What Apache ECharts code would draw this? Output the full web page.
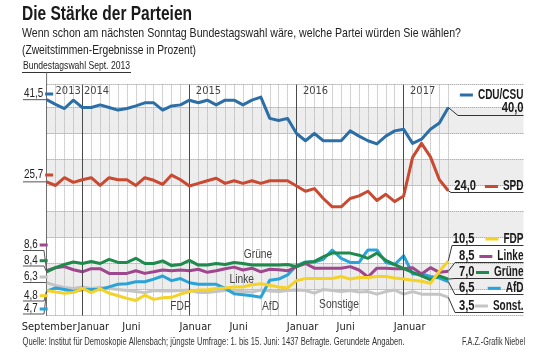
<!DOCTYPE html>
<html><head><meta charset="utf-8">
<script src="https://cdn.jsdelivr.net/npm/echarts@6/dist/echarts.min.js"></script>
<style>html,body{margin:0;padding:0;background:#fff}#c{width:555px;height:354px}</style>
</head><body><div id="c"></div><script>
// ---------- DATA ----------
const months = ['Sep 13','Okt 13','Nov 13','Dez 13',
 'Jan 14','Feb 14','Mär 14','Apr 14','Mai 14','Jun 14','Jul 14','Aug 14','Sep 14','Okt 14','Nov 14','Dez 14',
 'Jan 15','Feb 15','Mär 15','Apr 15','Mai 15','Jun 15','Jul 15','Aug 15','Sep 15','Okt 15','Nov 15','Dez 15',
 'Jan 16','Feb 16','Mär 16','Apr 16','Mai 16','Jun 16','Jul 16','Aug 16','Sep 16','Okt 16','Nov 16','Dez 16',
 'Jan 17','Feb 17','Mär 17','Apr 17','Mai 17','Jun 17'];
const tickIdx  = [0, 4, 9, 16, 21, 28, 33, 40];
const tickText = ['September','Januar','Juni','Januar','Juni','Januar','Juni','Januar'];
const yearIdx  = [4, 16, 28, 40];
const yearText = ['2014','2015','2016','2017'];
const electionYear = '2013';

const cdu = [41.5,40.6,39.8,41.4,40.0,40.0,40.5,40.0,39.5,39.8,40.3,40.9,40.9,39.5,40.3,40.5,
 41.4,40.9,41.4,40.5,41.4,41.4,40.5,41.4,42.0,37.9,37.5,37.9,
 35.0,33.6,35.0,33.6,33.6,33.6,35.5,34.5,33.6,33.0,34.5,35.5,
 35.8,33.1,33.9,35.8,37.0,40.0];
const spd = [25.7,25.0,26.5,25.6,26.1,26.5,25.0,26.5,26.1,26.1,25.0,26.5,26.0,25.2,27.0,26.1,
 24.9,25.4,25.9,26.4,25.4,25.9,25.4,25.9,25.4,25.9,25.9,25.9,
 24.9,23.9,24.4,22.5,20.9,20.9,22.5,23.0,23.9,22.1,23.3,21.9,
 23.0,30.4,33.1,30.5,26.1,24.0];
const fdp = [4.8,4.5,4.3,4.4,5.2,4.4,5.1,4.3,3.8,3.3,2.9,3.9,3.1,3.4,3.5,4.1,
 4.6,4.9,4.9,5.2,5.3,5.5,5.5,5.9,6.1,5.8,5.5,5.3,
 6.7,7.1,7.1,7.1,7.1,7.5,7.0,7.3,7.3,7.5,7.5,7.2,
 7.0,6.8,6.6,6.2,8.5,10.5];
const linke = [8.6,9.2,9.4,8.8,8.4,9.0,9.0,8.1,8.1,8.1,8.6,8.1,8.4,8.75,8.6,8.75,
 8.6,8.9,8.3,8.6,9.0,9.3,8.75,9.1,8.4,8.9,8.8,8.6,
 9.4,10.0,9.1,9.1,9.1,9.1,9.4,8.75,7.4,9.1,9.1,9.0,
 9.0,9.2,8.0,9.2,8.3,8.5];
const gruene = [8.4,9.2,9.8,10.3,10.0,10.4,10.0,10.8,10.2,10.2,11.0,10.0,10.0,10.5,9.6,9.8,
 10.6,9.7,9.7,10.0,9.8,10.2,10.0,9.7,9.7,9.7,9.7,9.8,
 9.4,10.2,10.4,11.3,12.0,12.0,12.0,11.6,11.0,12.0,10.6,9.8,
 9.0,8.3,7.6,6.9,7.6,7.0];
const afd = [4.7,5.3,5.0,4.6,5.0,5.0,5.0,5.5,6.0,6.1,6.5,6.5,7.0,7.6,6.7,7.1,
 6.3,6.0,6.0,6.0,5.2,4.2,4.0,3.8,3.5,6.8,7.0,7.8,
 9.6,10.3,10.3,10.8,12.6,11.0,10.2,10.2,12.6,12.6,10.2,9.8,
 11.5,8.0,8.0,7.5,7.2,6.5];
const sonst = [6.3,5.8,5.4,5.2,5.5,5.2,5.4,5.2,5.0,4.8,4.6,4.4,4.8,4.7,4.7,4.8,
 4.9,4.4,4.4,4.6,4.8,4.8,4.6,4.5,4.9,4.7,4.6,4.8,
 4.9,4.8,4.3,5.0,4.8,4.6,4.8,4.5,4.6,4.1,4.6,4.9,
 4.1,4.6,4.1,4.1,4.1,3.5];
const inlineNames = ['Grüne','Linke','FDP','AfD','Sonstige'];

// ---------- STYLE ----------
const AXF = "'DejaVu Sans Condensed','DejaVu Sans',sans-serif";
const GF = "'Liberation Sans',Arial,sans-serif";
const NARROW = 0.82;
const series = [
  {name:'Sonst.',  data:sonst,  color:'#c4c4c4'},
  {name:'AfD',     data:afd,    color:'#2aa3d9'},
  {name:'Linke',   data:linke,  color:'#9f478d'},
  {name:'Grüne',   data:gruene, color:'#1e8a4c'},
  {name:'FDP',     data:fdp,    color:'#f4d228'},
  {name:'SPD',     data:spd,    color:'#c94a31'},
  {name:'CDU/CSU', data:cdu,    color:'#2c6ea6'}
];
const YMAX = 44.4;
const chart = echarts.init(document.getElementById('c'), null, {renderer:'canvas'});

const yAxisBase = {
  type:'value', min:0, max:YMAX, interval:5,
  axisTick:{show:false}, axisLabel:{show:false},
  splitLine:{show:true, lineStyle:{type:'dotted', color:'#8f8f8f', width:1}},
  splitArea:{show:true, areaStyle:{color:['#ffffff','#ededed']}}
};
const monthRich = (pad)=>({padding:[0,0,0,pad], fontFamily:AXF, fontSize:11, color:'#222'});

const option = {
  animation:false,
  backgroundColor:'#ffffff',
  grid:[
    {left:46.6, right:555-448.3, top:84.6, bottom:354-315.5},
    {left:448.3, right:555-523.5, top:84.6, bottom:354-315.5}
  ],
  xAxis:[
    {type:'category', gridIndex:0, position:'bottom', data:months, boundaryGap:false,
     axisLine:{show:false}, axisTick:{show:false},
     splitLine:{show:true, interval:0, lineStyle:{type:'dotted', color:'#a8a8a8', width:1}},
     axisLabel:{
       interval:(i)=>tickIdx.includes(i), margin:6, showMinLabel:true, showMaxLabel:true,
       color:'#222', fontFamily:AXF, fontSize:11,
       formatter:(v,i)=>{
         const k = tickIdx.indexOf(i); if (k<0) return '';
         const st = i===tickIdx[0] ? 's' : (k===1 ? 'j1' : (tickText[k]==='Juni' ? 'u' : 'j'));
         return '{'+st+'|'+tickText[k]+'}';
       },
       rich:{ s:monthRich(5), j1:monthRich(22), j:monthRich(12), u:monthRich(9) }
     }},
    {type:'category', gridIndex:0, position:'top', data:months, boundaryGap:false,
     axisLine:{show:false}, axisTick:{show:false}, splitLine:{show:false},
     axisLabel:{
       inside:true, margin:1, interval:(i)=>yearIdx.includes(i), showMinLabel:true,
       color:'#444', fontFamily:AXF, fontSize:11,
       formatter:(v,i)=>{
         const k = yearIdx.indexOf(i); if (k<0) return '';
         if (k===0) return electionYear+' '+yearText[0];
         return '{y|'+yearText[k]+'}';
       },
       rich:{ y:{padding:[0,0,0,38], fontFamily:AXF, fontSize:11, color:'#444'} }
     }},
    {type:'value', gridIndex:1, show:false, min:0, max:1}
  ],
  yAxis:[
    Object.assign({gridIndex:0, axisLine:{show:true, lineStyle:{color:'#6f6f6f', width:1}}}, yAxisBase),
    Object.assign({gridIndex:1, axisLine:{show:false}}, yAxisBase)
  ],
  series: series.map((s, k)=>{
    const o = {
      name:s.name, type:'line', xAxisIndex:0, yAxisIndex:0,
      data:s.data, symbol:'none', z:2+k,
      lineStyle:{color:s.color, width:3, join:'round'},
      itemStyle:{color:s.color}
    };
    if (k===0) {
      o.markLine = {silent:true, symbol:['none','none'], label:{show:false},
        lineStyle:{color:'#4a4a4a', width:1, type:'solid'},
        data: yearIdx.map(i=>({xAxis:i}))};
    }
    return o;
  })
};
chart.setOption(option);

// ---------- ANNOTATIONS ----------
const ctx = document.createElement('canvas').getContext('2d');
function tw(t, font){ ctx.font = font; return ctx.measureText(t).width; }
const fmt = v => v.toFixed(1).replace('.', ',');
const els = [];
function text(t, x, y, font, fill, align, sx){
  els.push({type:'text', z:100, x:x, y:y, scaleX:sx||NARROW,
    style:{text:t, font:font, fill:fill, align:align||'left', verticalAlign:'middle'}});
}
// text fitted to a width measured on the reference
function fitText(t, x, y, font, fill, width, align){
  text(t, x, y, font, fill, align, width / tw(t, font));
}
function pline(points, stroke, w){ els.push({type:'polyline', z:99, shape:{points:points}, style:{stroke:stroke||'#333', lineWidth:w||1, fill:null}}); }
function rect(x,y,wd,h,fill){ els.push({type:'rect', z:100, shape:{x:x,y:y,width:wd,height:h}, style:{fill:fill}}); }
const byName = n => series.findIndex(s=>s.name===n);
const px = (n, i) => { const k = byName(n); return chart.convertToPixel({seriesIndex:k}, [i, series[k].data[i]]); };
const f = (size, bold) => (bold?'bold ':'') + size + 'px ' + GF;

// header
fitText('Die Stärke der Parteien', 22, 14.5, f(20,true), '#1a1a1a', 170);
fitText('Wenn schon am nächsten Sonntag Bundestagswahl wäre, welche Partei würden Sie wählen?', 22, 33, f(13.5), '#222', 439);
fitText('(Zweitstimmen-Ergebnisse in Prozent)', 22, 50, f(13.5), '#222', 174);
fitText('Bundestagswahl Sept. 2013', 23, 65.5, f(11.5), '#222', 107);
pline([[22,72.5],[131,72.5]], '#333', 1);
pline([[46.6,72.5],[46.6,85]], '#6f6f6f', 1);
// footer
fitText('Quelle: Institut für Demoskopie Allensbach; jüngste Umfrage: 1. bis 15. Juni: 1437 Befragte. Gerundete Angaben.', 22.5, 342.5, f(10), '#333', 382);
fitText('F.A.Z.-Grafik Niebel', 525, 342.5, f(10), '#333', 63, 'right');

// inline series names
const inlinePos = [[258,255],[241.7,279.3],[180.5,307],[270.5,307],[339,305]];
inlineNames.forEach((n,k)=>text(n, inlinePos[k][0], inlinePos[k][1], f(12.5), '#444', 'center'));

// left start labels
const leftRows = {
  'CDU/CSU':{ty:94}, 'SPD':{ty:175},
  'Linke':{ty:245, uy:250.5}, 'Grüne':{ty:260.7, uy:266}, 'Sonst.':{ty:277, uy:282.5},
  'FDP':{ty:295.7, uy:301}, 'AfD':{ty:309, uy:314}
};
Object.keys(leftRows).forEach(n=>{
  const r = leftRows[n], s = series[byName(n)], p = px(n, 0);
  const t = fmt(s.data[0]), fnt = f(12);
  text(t, 24, r.ty, fnt, '#222');
  const w = tw(t, fnt) * NARROW;
  rect(24+w+2, r.ty-1.5, 8, 3, s.color);
  const uy = r.uy!==undefined ? r.uy : p[1];
  pline([[23,uy],[44,uy],[p[0],p[1]]], '#555', 1);
});

// right end labels
const R = 523.5, last = months.length-1;
const nameF = f(14,true), valF = f(14,true), NAME_SX = 0.715, VAL_SX = 0.8;
function dashName(n, y, color){
  const w = tw(n, nameF) * NAME_SX;
  text(n, R, y, nameF, '#1a1a1a', 'right', NAME_SX);
  rect(R - w - 5 - 13, y-1.5, 13, 3, color);
}
{ // CDU/CSU
  const s = series[byName('CDU/CSU')], p = px('CDU/CSU', last);
  dashName('CDU/CSU', 95, s.color);
  text(fmt(s.data[last]), R, 108.5, valF, '#1a1a1a', 'right', VAL_SX);
  pline([[p[0],p[1]],[458,115.5],[R,115.5]], '#333', 1);
}
{ // SPD
  const s = series[byName('SPD')], p = px('SPD', last);
  dashName('SPD', 186.5, s.color);
  text(fmt(s.data[last]), 476, 186.5, valF, '#1a1a1a', 'right', VAL_SX);
  pline([[p[0],p[1]],[451,192.5],[R,192.5]], '#333', 1);
}
const rightRows = {
  'FDP':{ty:239, uy:245.5, ux:452}, 'Linke':{ty:256.5, uy:262.5, ux:455},
  'Grüne':{ty:272.5, uy:278.5, ux:455}, 'AfD':{ty:288.3, uy:294.5, ux:455},
  'Sonst.':{ty:306, uy:312.5, ux:455}
};
Object.keys(rightRows).forEach(n=>{
  const r = rightRows[n], s = series[byName(n)], p = px(n, last);
  dashName(n, r.ty, s.color);
  text(fmt(s.data[last]), 474.5, r.ty, valF, '#1a1a1a', 'right', VAL_SX);
  pline([[p[0],p[1]],[r.ux,r.uy],[R,r.uy]], '#333', 1);
});

chart.setOption({graphic:{elements:els}});
</script></body></html>
